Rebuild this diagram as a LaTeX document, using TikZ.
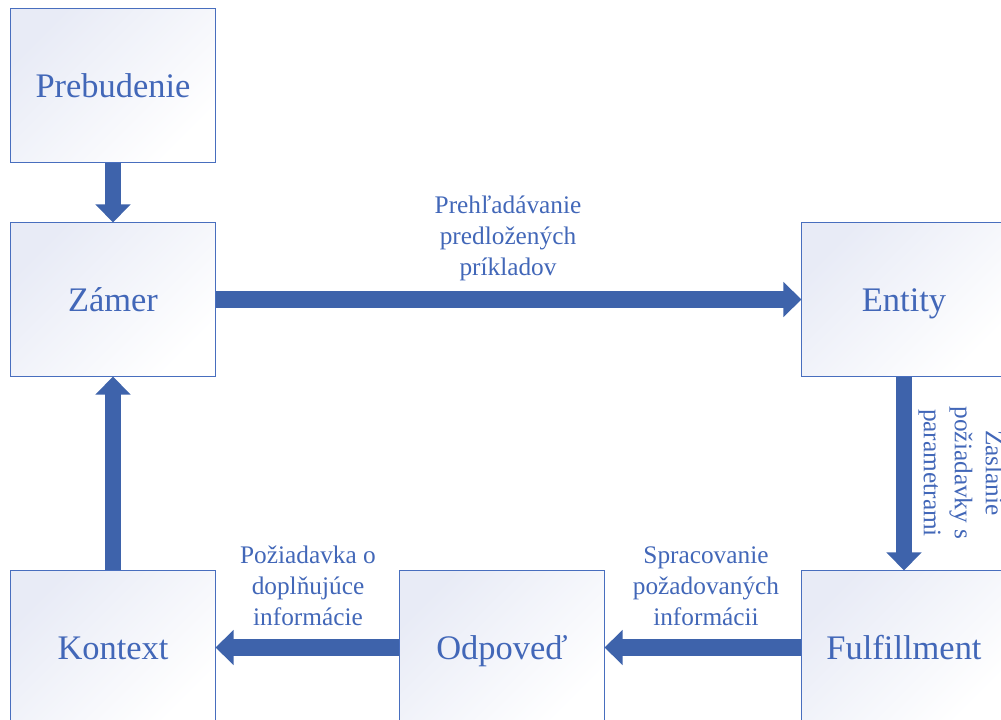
\documentclass[tikz,border=0pt]{standalone}
\usepackage{fontspec}
\setmainfont{Liberation Serif}
\usetikzlibrary{arrows.meta}
\usetikzlibrary{positioning}

\definecolor{flowblue}{RGB}{62,99,171}
\definecolor{textblue}{RGB}{66,103,184}
\definecolor{edgeblue}{RGB}{72,110,190}
\definecolor{shadeblue}{RGB}{232,235,246}

\tikzset{
  stage/.style={draw=edgeblue, line width=0.7pt, minimum width=5.1cm, minimum height=3.825cm,
    top color=shadeblue, bottom color=white, shading angle=45,
    text height=20pt, text depth=3.6pt,
    text=textblue, font=\fontsize{24.5}{29}\selectfont},
  flow/.style={draw=flowblue, line width=0.41cm, -{Triangle[length=0.45cm, width=0.85cm]}},
  note/.style={text=textblue, align=center, font=\fontsize{18}{22}\selectfont}
}

\begin{document}
\begin{tikzpicture}[x=0.025cm, y=-0.025cm]

  \useasboundingbox (0,0) rectangle (1001,720);

  % ---------- Boxes ----------
  \node[stage] at (113, 85.5) (prebudenie) {Prebudenie};
  \node[stage] at (113, 299.5) (zamer) {Zámer};
  \node[stage] at (904, 299.5) (entity) {Entity};
  \node[stage] at (113, 647.5) (kontext) {Kontext};
  \node[stage] at (502, 647.5) (odpoved) {Odpoveď};
  \node[stage] at (904, 647.5) (fulfillment) {Fulfillment};

  % ---------- Arrows ----------
  \draw[flow] (prebudenie.south) -- (zamer.north);
  \draw[flow] (zamer.east) -- (entity.west);
  \draw[flow] (entity.south) -- (fulfillment.north);
  \draw[flow] (fulfillment.west) -- (odpoved.east);
  \draw[flow] (odpoved.west) -- (kontext.east);
  \draw[flow] (kontext.north) -- (zamer.south);

  % ---------- Labels ----------
  \node[note] at (508, 238) (lblsearch) {Prehľadávanie\\predložených\\príkladov};
  \node[note, rotate=-90] at (961, 473) (lblsend) {Zaslanie\\požiadavky s\\parametrami};
  \node[note] at (706, 586) (lblprocess) {Spracovanie\\požadovaných\\informácii};
  \node[note] at (308, 586) (lblrequest) {Požiadavka o\\doplňujúce\\informácie};

\end{tikzpicture}
\end{document}
